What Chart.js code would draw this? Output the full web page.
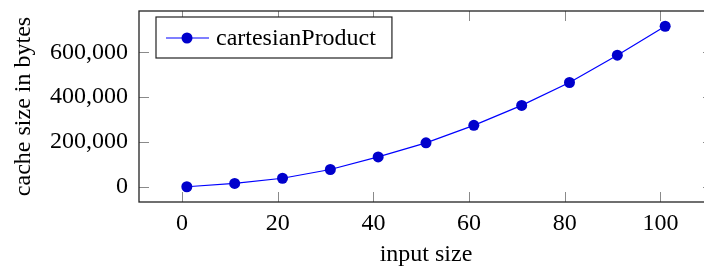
<!DOCTYPE html>
<html>
<head>
<meta charset="utf-8">
<script src="https://cdn.jsdelivr.net/npm/chart.js@4"></script>
<style>
  html, body { margin: 0; padding: 0; background: #fff; overflow: hidden; }
  #marcoGrafico { width: 704px; height: 270px; overflow: hidden; }
</style>
</head>
<body>
<div id="marcoGrafico"><canvas id="grafico_cache" width="730" height="270"></canvas></div>
<script>
// Datos
const tamanosEntrada = [1, 11, 21, 31, 41, 51, 61, 71, 81, 91, 101];
const bytesCache = [0, 15000, 38000, 77000, 133000, 196000, 274000, 363000, 465000, 587000, 716000];
const ticksX = [0, 20, 40, 60, 80, 100];
const ticksY = [0, 200000, 400000, 600000];
const nombreSerie = 'cartesianProduct';

const fuente = { family: '"Liberation Serif", "Times New Roman", serif', size: 24 };

// Caja del eje con las marquitas hacia adentro (estilo pgfplots)
const marcoEjes = {
  id: 'marcoEjes',
  afterDraw(chart) {
    const { ctx, chartArea: a, scales } = chart;
    ctx.save();
    ctx.strokeStyle = '#8a8a8a';
    ctx.lineWidth = 1;
    ctx.beginPath();
    scales.x.ticks.forEach((t) => {
      const px = Math.round(scales.x.getPixelForValue(t.value)) + 0.5;
      ctx.moveTo(px, a.top); ctx.lineTo(px, a.top + 10);
      ctx.moveTo(px, a.bottom); ctx.lineTo(px, a.bottom - 10);
    });
    scales.y.ticks.forEach((t) => {
      const py = Math.round(scales.y.getPixelForValue(t.value)) + 0.5;
      ctx.moveTo(a.left, py); ctx.lineTo(a.left + 10, py);
      ctx.moveTo(a.right, py); ctx.lineTo(a.right - 10, py);
    });
    ctx.stroke();
    ctx.strokeStyle = '#222';
    ctx.lineWidth = 1.3;
    ctx.strokeRect(a.left, a.top, a.right - a.left, a.bottom - a.top);
    ctx.restore();
  },
};

// Leyenda dentro del area, arriba a la izquierda
const leyenda = {
  id: 'leyenda',
  afterDraw(chart) {
    const { ctx, chartArea: a } = chart;
    const ds = chart.data.datasets[0];
    ctx.save();
    ctx.font = fuente.size + 'px ' + fuente.family;
    const anchoTexto = ctx.measureText(ds.label).width;
    const x0 = a.left + 17;
    const y0 = a.top + 6;
    const w = 60 + anchoTexto + 16;
    const h = 41;
    ctx.fillStyle = '#fff';
    ctx.fillRect(x0, y0, w, h);
    ctx.strokeStyle = '#222';
    ctx.lineWidth = 1.2;
    ctx.strokeRect(x0, y0, w, h);
    // linea + punto
    ctx.strokeStyle = ds.borderColor;
    ctx.lineWidth = ds.borderWidth;
    ctx.beginPath();
    ctx.moveTo(x0 + 10, y0 + 21);
    ctx.lineTo(x0 + 53, y0 + 21);
    ctx.stroke();
    ctx.fillStyle = ds.pointBackgroundColor;
    ctx.beginPath();
    ctx.arc(x0 + 31, y0 + 21, ds.pointRadius, 0, Math.PI * 2);
    ctx.fill();
    ctx.fillStyle = '#000';
    ctx.textBaseline = 'alphabetic';
    ctx.fillText(ds.label, x0 + 60, y0 + 28);
    ctx.restore();
  },
};

const grafica = new Chart(document.getElementById('grafico_cache'), {
  type: 'line',
  data: {
    datasets: [
      {
        label: nombreSerie,
        data: tamanosEntrada.map((x, i) => ({ x: x, y: bytesCache[i] })),
        borderColor: '#0000ff',
        borderWidth: 1.2,
        backgroundColor: '#0000cc',
        pointBackgroundColor: '#0000cc',
        pointBorderColor: '#0000cc',
        pointBorderWidth: 0,
        pointRadius: 5.5,
        tension: 0,
        clip: false,
      },
    ],
  },
  options: {
    responsive: false,
    animation: false,
    layout: { padding: { top: 11, right: 17, left: 0, bottom: 0 } },
    plugins: { legend: { display: false }, tooltip: { enabled: false } },
    scales: {
      x: {
        type: 'linear',
        min: -9,
        max: 111,
        afterBuildTicks: (s) => { s.ticks = ticksX.map((v) => ({ value: v })); },
        afterFit: (s) => { s.height = 68; s.paddingLeft = 0; s.paddingRight = 0; },
        grid: { display: false, drawTicks: false },
        border: { display: false },
        ticks: { font: fuente, color: '#000', padding: 7, maxRotation: 0, autoSkip: false },
        title: { display: true, text: 'input size', font: fuente, color: '#000', padding: { top: 0, bottom: 1 } },
      },
      y: {
        type: 'linear',
        min: -68000,
        max: 784000,
        afterBuildTicks: (s) => { s.ticks = ticksY.map((v) => ({ value: v })); },
        afterFit: (s) => { s.width = 139; s.paddingTop = 0; s.paddingBottom = 0; },
        grid: { display: false, drawTicks: false },
        border: { display: false },
        ticks: {
          font: fuente,
          color: '#000',
          padding: 11,
          autoSkip: false,
          callback: (v) => v.toLocaleString('en-US'),
        },
        title: { display: true, text: 'cache size in bytes', font: fuente, color: '#000', padding: { top: 9, bottom: 0 } },
      },
    },
  },
  plugins: [marcoEjes, leyenda],
});
</script>
</body>
</html>
